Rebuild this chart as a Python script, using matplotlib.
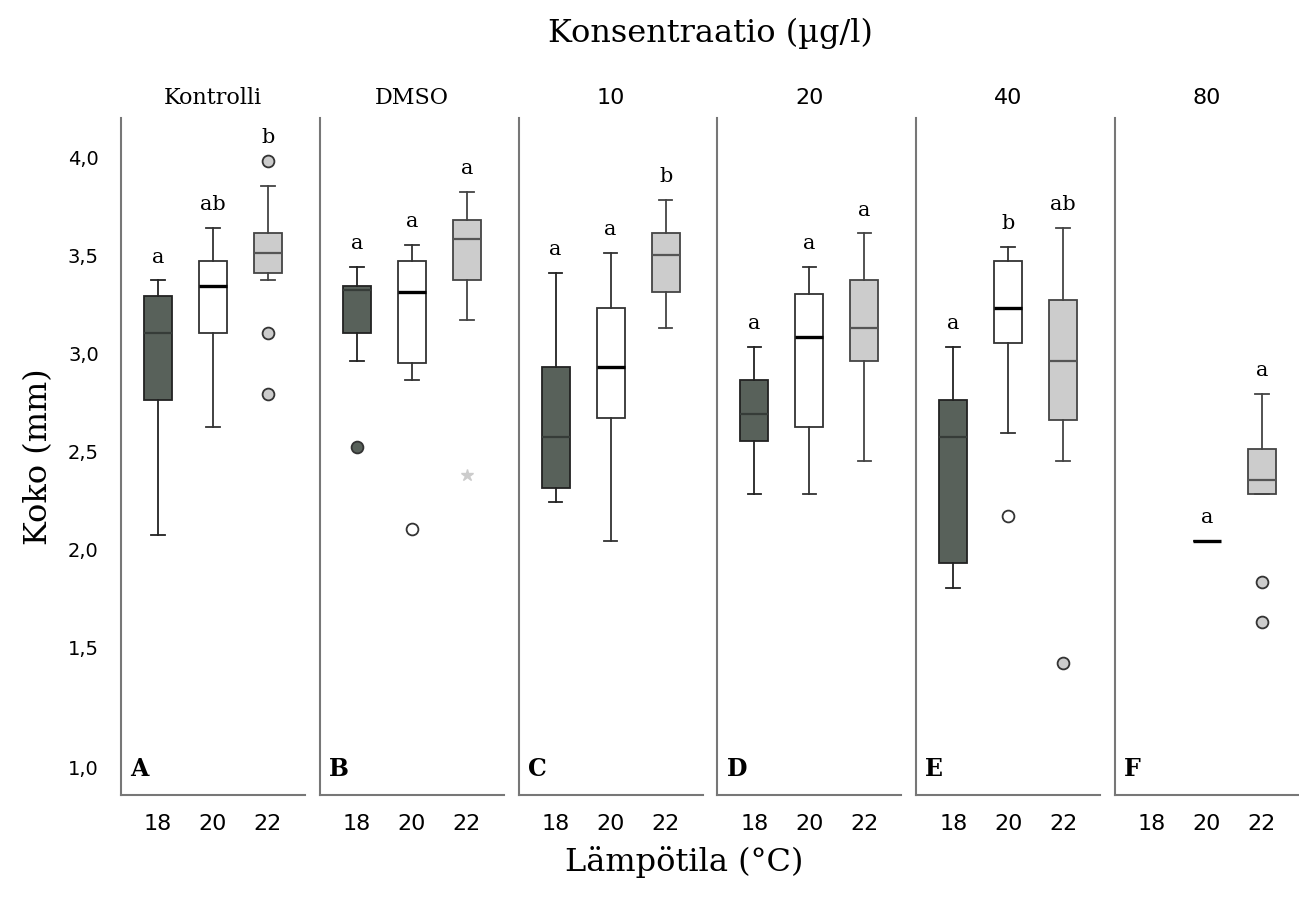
import numpy as np
import matplotlib
matplotlib.use("Agg")
import matplotlib.pyplot as plt
from matplotlib.transforms import ScaledTranslation

# Box plot summaries, one row per concentration panel, columns = temperature 18/20/22
panel_titles = ["Kontrolli", "DMSO", "10", "20", "40", "80"]
panel_tags = ["A", "B", "C", "D", "E", "F"]
temps = ["18", "20", "22"]

medians = [[3.10, 3.34, 3.51],
           [3.32, 3.31, 3.58],
           [2.57, 2.93, 3.50],
           [2.69, 3.08, 3.13],
           [2.57, 3.23, 2.96],
           [None, 2.04, 2.35]]
q1 = [[2.76, 3.10, 3.41],
      [3.10, 2.95, 3.37],
      [2.31, 2.67, 3.31],
      [2.55, 2.62, 2.96],
      [1.93, 3.05, 2.66],
      [None, 2.04, 2.28]]
q3 = [[3.29, 3.47, 3.61],
      [3.34, 3.47, 3.68],
      [2.93, 3.23, 3.61],
      [2.86, 3.30, 3.37],
      [2.76, 3.47, 3.27],
      [None, 2.04, 2.51]]
whis_lo = [[2.07, 2.62, 3.37],
           [2.96, 2.86, 3.17],
           [2.24, 2.04, 3.13],
           [2.28, 2.28, 2.45],
           [1.80, 2.59, 2.45],
           [None, 2.04, 2.28]]
whis_hi = [[3.37, 3.64, 3.85],
           [3.44, 3.55, 3.82],
           [3.41, 3.51, 3.78],
           [3.03, 3.44, 3.61],
           [3.03, 3.54, 3.64],
           [None, 2.04, 2.79]]
# circles (outliers) and stars (extremes)
outliers = {(0, 2): [3.98, 3.10, 2.79],
            (1, 0): [2.52],
            (1, 1): [2.10],
            (4, 1): [2.17],
            (4, 2): [1.42],
            (5, 2): [1.83, 1.63]}
extremes = {(1, 2): [2.38]}
letters = [["a", "ab", "b"],
           ["a", "a", "a"],
           ["a", "a", "b"],
           ["a", "a", "a"],
           ["a", "b", "ab"],
           ["", "a", "a"]]

fills = ["#58615a", "white", "#cccccc"]
edges = ["#222222", "#333333", "#444444"]
med_colors = ["#363c38", "black", "#555555"]
med_widths = [1.6, 2.4, 1.6]

serif = "DejaVu Serif"
sans = "DejaVu Sans"

fig = plt.figure(figsize=(12.99, 9.13), dpi=100)
W, H = 1299, 913
axes = []
for p in range(6):
    left = 121 + p * 198.8
    ax = fig.add_axes([left / W, 1 - 795 / H, 184 / W, (795 - 118) / H])
    axes.append(ax)

    for g in range(3):
        if medians[p][g] is None:
            continue
        stats = [dict(med=medians[p][g], q1=q1[p][g], q3=q3[p][g],
                      whislo=whis_lo[p][g], whishi=whis_hi[p][g], fliers=[])]
        ax.bxp(stats, positions=[g], widths=0.51, patch_artist=True,
               showfliers=False,
               boxprops=dict(facecolor=fills[g], edgecolor=edges[g], linewidth=1.3),
               medianprops=dict(color=med_colors[g], linewidth=med_widths[g]),
               whiskerprops=dict(color=edges[g], linewidth=1.3),
               capprops=dict(color=edges[g], linewidth=1.3),
               capwidths=0.25)
        top = whis_hi[p][g]
        if (p, g) in outliers:
            vals = outliers[(p, g)]
            ax.plot([g] * len(vals), vals, "o", ms=8.5, mfc=fills[g],
                    mec="#333333", mew=1.3, zorder=4)
            top = max(top, max(vals))
        if (p, g) in extremes:
            vals = extremes[(p, g)]
            ax.plot([g] * len(vals), vals, "*", ms=9, color="#cccccc",
                    mec="#cccccc", zorder=4)
        if letters[p][g]:
            ax.annotate(letters[p][g], (g, top), xytext=(0, 10),
                        textcoords="offset points", ha="center", va="bottom",
                        fontsize=15, family=serif)

    ax.set_xlim(-0.673, 2.673)
    ax.set_ylim(0.745, 4.199)
    ax.set_xticks(range(3))
    ax.set_xticklabels(temps, fontsize=16, family=sans)
    ax.tick_params(axis="x", length=0, pad=14)
    ax.tick_params(axis="y", length=0)
    for side in ["top", "right"]:
        ax.spines[side].set_visible(False)
    for side in ["left", "bottom"]:
        ax.spines[side].set_color("#777777")
        ax.spines[side].set_linewidth(1.5)

    title_family = serif if panel_titles[p][0].isalpha() else sans
    ax.set_title(panel_titles[p], fontsize=16, family=title_family, pad=10)
    ax.text(0.05, 0.02, panel_tags[p], transform=ax.transAxes, fontsize=17,
            fontweight="bold", family=serif, ha="left", va="bottom")

    if p == 0:
        yt = [1.0, 1.5, 2.0, 2.5, 3.0, 3.5, 4.0]
        ax.set_yticks(yt)
        ax.set_yticklabels([f"{v:.1f}".replace(".", ",") for v in yt],
                           fontsize=14, family=sans)
        ax.tick_params(axis="y", pad=16)
        # the lowest label sits a little below its gridline
        lbl = ax.get_yticklabels()[0]
        lbl.set_transform(lbl.get_transform()
                          + ScaledTranslation(0, -22 / 100, fig.dpi_scale_trans))
        ax.set_ylabel("Koko (mm)", fontsize=23, family=serif, labelpad=10)
    else:
        ax.set_yticks([])

fig.text(710 / W, 1 - 33 / H, "Konsentraatio (µg/l)", fontsize=23,
         family=serif, ha="center", va="center")
fig.text(684 / W, 1 - 862 / H, "Lämpötila (°C)", fontsize=23,
         family=serif, ha="center", va="center")

fig.savefig("out.png", dpi=100)
